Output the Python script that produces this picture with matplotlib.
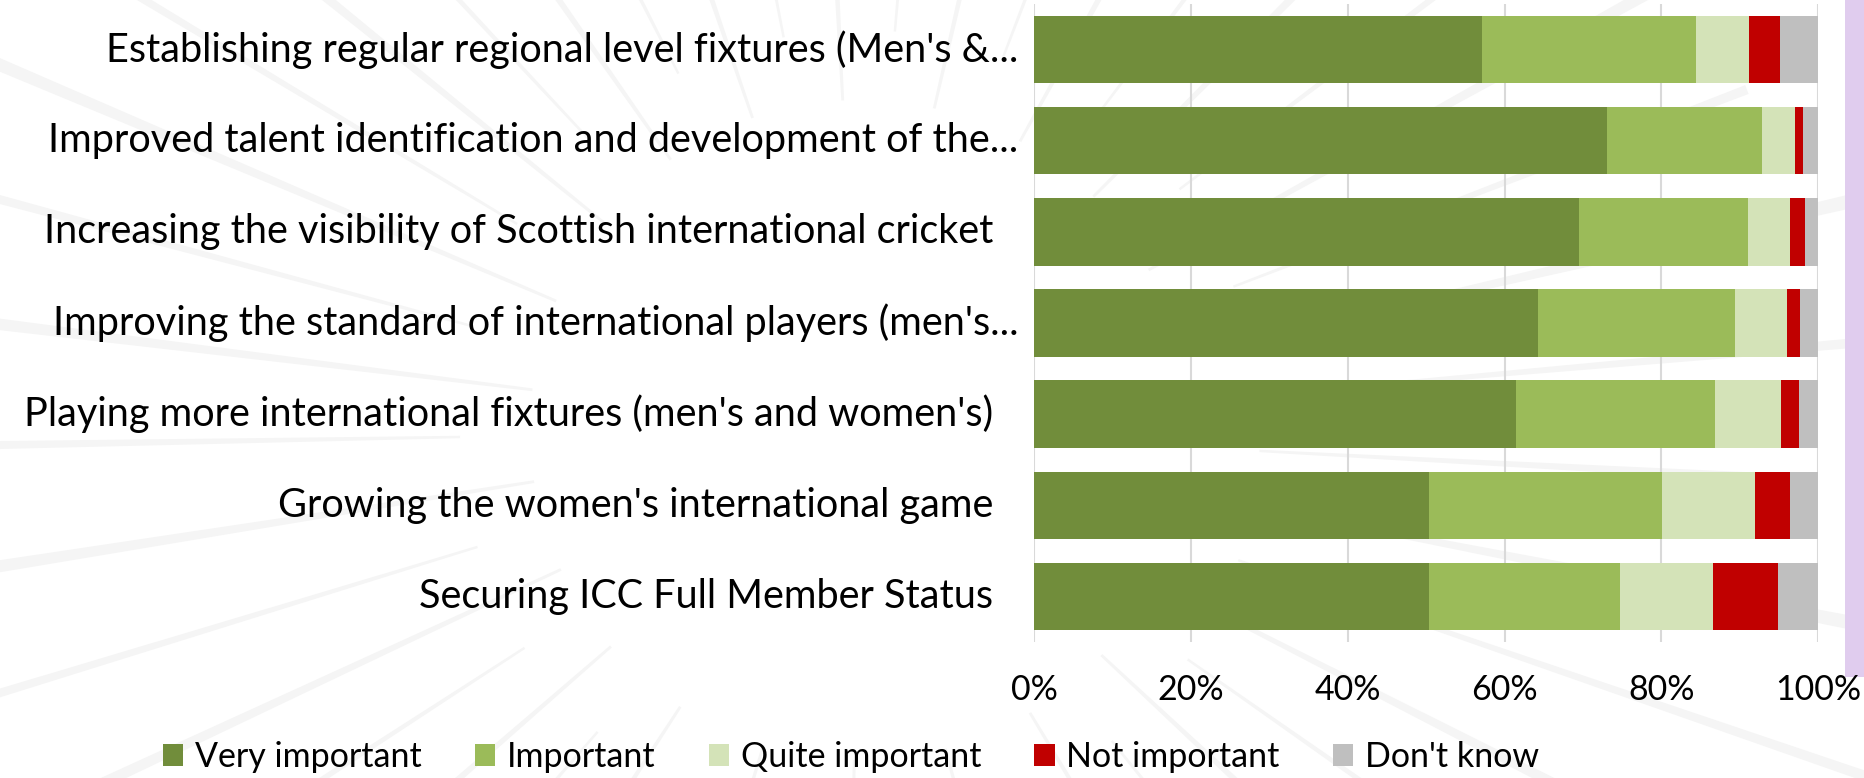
import numpy as np
import matplotlib
matplotlib.use('Agg')
import matplotlib.pyplot as plt
import matplotlib.transforms as mtransforms
from matplotlib.patches import Rectangle, Polygon

plt.rcParams['font.family'] = ['Lato', 'DejaVu Sans']

# Survey answers, top row first (percent of respondents)
categories = [
    "Establishing regular regional level fixtures (Men's &...",
    "Improved talent identification and development of the...",
    "Increasing the visibility of Scottish international cricket",
    "Improving the standard of international players (men's...",
    "Playing more international fixtures (men's and women's)",
    "Growing the women's international game",
    "Securing ICC Full Member Status",
]
very_important = [57.1, 73.0, 69.5, 64.2, 61.5, 50.4, 50.4]
important = [27.3, 19.8, 21.6, 25.2, 25.4, 29.7, 24.3]
quite_important = [6.8, 4.3, 5.3, 6.6, 8.4, 11.9, 11.9]
not_important = [3.9, 1.0, 1.9, 1.7, 2.2, 4.4, 8.3]
dont_know = [4.9, 1.9, 1.7, 2.3, 2.5, 3.6, 5.1]

series_names = ['Very important', 'Important', 'Quite important', 'Not important', "Don't know"]
series = [very_important, important, quite_important, not_important, dont_know]
colors = ['#718D3B', '#9BBB59', '#D4E3B8', '#C00000', '#BFBFBF']
tick_vals = [0, 20, 40, 60, 80, 100]

fig = plt.figure(figsize=(18.64, 7.78), dpi=100)
fig.patch.set_facecolor('white')

# faint sunburst watermark behind everything
bg = fig.add_axes([0, 0, 1, 1], zorder=-5)
bg.set_xlim(0, 1864)
bg.set_ylim(778, 0)
bg.axis('off')
cx, cy = 860, 430
for k, ang in enumerate(np.arange(0, 360, 8.0)):
    a = np.deg2rad(ang + 3)
    r0 = 330 if k % 2 else 400
    r1 = 1150 if k % 3 else 950
    w = 0.007 if k % 2 else 0.005
    pts = [(cx + r0 * np.cos(a - w * 0.6), cy + r0 * np.sin(a - w * 0.6)),
           (cx + r1 * np.cos(a - w), cy + r1 * np.sin(a - w)),
           (cx + r1 * np.cos(a + w), cy + r1 * np.sin(a + w)),
           (cx + r0 * np.cos(a + w * 0.6), cy + r0 * np.sin(a + w * 0.6))]
    bg.add_patch(Polygon(pts, closed=True, facecolor='#F5F5F5', edgecolor='none'))

# purple strip at the right edge
fig.patches.append(Rectangle((1845 / 1864, 1 - 677 / 778), 19 / 1864, 677 / 778,
                             transform=fig.transFigure, facecolor='#E0CCEE',
                             edgecolor='none', zorder=-4))

ax = fig.add_axes([1034.2 / 1864, 1 - 642 / 778, 784 / 1864, 638 / 778])
ax.set_facecolor('none')

y = np.arange(len(categories))
left = np.zeros(len(categories))
for name, vals, col in zip(series_names, series, colors):
    ax.barh(y, vals, left=left, height=0.74, color=col, label=name, zorder=3)
    left += np.array(vals)

ax.set_xlim(0, 100)
ax.set_ylim(len(categories) - 0.5, -0.5)
ax.set_xticks(tick_vals)
ax.set_xticklabels([f'{v}%' for v in tick_vals])
ax.tick_params(axis='x', length=0, pad=23, labelsize=24.5)
ax.set_yticks([])
ax.grid(axis='x', color='#D9D9D9', lw=1.5, zorder=0)
for s in ax.spines.values():
    s.set_visible(False)

# category labels, right aligned; truncated ones sit closer to the axis
trans = mtransforms.blended_transform_factory(ax.transAxes, ax.transData)
for i, cat in enumerate(categories):
    off = 0.020 if cat.endswith('...') else 0.052
    ax.text(-off, i, cat, ha='right', va='center', fontsize=28.5, transform=trans)

fig.legend(loc='center', bbox_to_anchor=(851 / 1864, 1 - 757 / 778), ncol=5,
           frameon=False, fontsize=24.5, handlelength=0.6, handleheight=0.65,
           handletextpad=0.35, columnspacing=1.55, borderaxespad=0)

plt.savefig('out.png', dpi=100)
